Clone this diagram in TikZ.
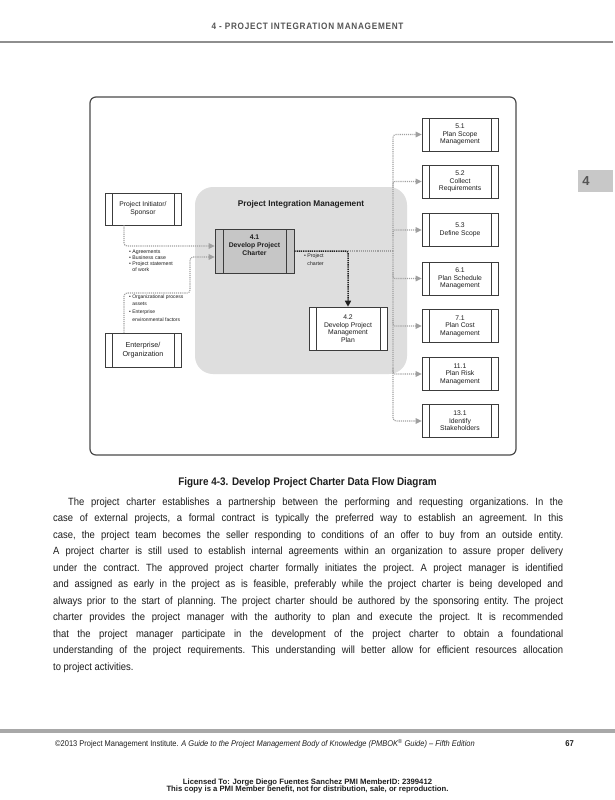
\documentclass[tikz,border=0pt]{standalone}
\usepackage{fontspec}
\setmainfont{Liberation Sans}
\newfontfamily\cnd{Liberation Sans}[FakeStretch=0.9]
\newfontfamily\hdrfam{Liberation Sans}[FakeStretch=0.88,LetterSpace=8]
\usetikzlibrary{arrows.meta}
\definecolor{framec}{HTML}{4A4A4A}
\definecolor{boxc}{HTML}{3C3C3C}
\definecolor{regionc}{HTML}{DEDEDE}
\definecolor{darkfill}{HTML}{C6C6C6}
\definecolor{connc}{HTML}{A0A0A0}
\definecolor{hdrc}{HTML}{555555}
\definecolor{rulec}{HTML}{8E8E8E}
\definecolor{barc}{HTML}{A8A8A8}
\definecolor{tabc}{HTML}{C8C8C8}
\definecolor{textc}{HTML}{1E1E1E}
\tikzset{
  sbar/.style={path picture={\draw[boxc,line width=0.6pt]
      ([xshift=#1]path picture bounding box.south west) -- ([xshift=#1]path picture bounding box.north west)
      ([xshift=-#1]path picture bounding box.south east) -- ([xshift=-#1]path picture bounding box.north east);}},
  pbox/.style={draw=boxc, line width=0.6pt, fill=white, minimum width=76pt, minimum height=33pt,
      inner sep=1pt, align=center, text=textc, font=\fontsize{6.8}{7.6}\selectfont, sbar=7pt},
  gline/.style={draw=connc, line width=1.1pt, dash pattern=on 1.1pt off 1pt, rounded corners=3pt},
  gconn/.style={gline, -{Triangle[length=6pt,width=5.5pt]}},
  bconn/.style={draw=black!88, line width=1.5pt, dash pattern=on 1.3pt off 0.9pt, rounded corners=2pt,
      -{Triangle[length=6pt,width=6pt]}},
  lbl/.style={anchor=north west, inner sep=0pt, align=left, text=textc},
}
\begin{document}
\begin{tikzpicture}[x=1pt,y=-1pt]
\path[use as bounding box, fill=white] (0,0) rectangle (615,800);

% header
\node[font={\hdrfam\bfseries\fontsize{9.3}{10}\selectfont}, text=hdrc] (hdr) at (307.5,26) {4 - PROJECT INTEGRATION MANAGEMENT};
\draw[rulec, line width=2.2pt] (0,42) -- (613,42);
\node[fill=tabc, minimum width=35pt, minimum height=22pt, inner sep=0pt, anchor=north west] (tab) at (578,170) {};
\node[font=\bfseries\fontsize{13}{14}\selectfont, text=hdrc] (tabnum) at (586,181.5) {4};

% diagram frame and group region
\node[draw=framec, line width=1.2pt, rounded corners=6pt, minimum width=426pt, minimum height=358pt] (frame) at (303,276) {};
\node[fill=regionc, rounded corners=18pt, minimum width=212pt, minimum height=187pt, inner sep=0pt] (pim) at (301,280.5) {};
\node[font=\bfseries\fontsize{8.3}{9}\selectfont, text=textc] (title) at (301,204) {Project Integration Management};

% boxes
\node[pbox, minimum height=32pt] (sponsor) at (143,209) {Project Initiator/\\Sponsor};
\node[pbox, minimum height=34pt, font=\fontsize{7.2}{8.4}\selectfont] (ent) at (143,350) {Enterprise/\\Organization};
\node[pbox, fill=darkfill, minimum width=79pt, minimum height=44pt, sbar=8pt, font=\bfseries\fontsize{6.8}{7.6}\selectfont] (c41) at (254.5,251) {4.1\\Develop Project\\Charter\\[4pt]};
\node[pbox, minimum width=78pt, minimum height=43pt] (c42) at (348,328.5) {4.2\\Develop Project\\Management\\Plan};

\node[pbox] (r51) at (460,134.5) {5.1\\Plan Scope\\Management};
\node[pbox] (r52) at (460,181.5) {5.2\\Collect\\Requirements};
\node[pbox] (r53) at (460,230) {5.3\\Define Scope};
\node[pbox] (r61) at (460,278.5) {6.1\\Plan Schedule\\Management};
\node[pbox] (r71) at (460,326) {7.1\\Plan Cost\\Management};
\node[pbox] (r111) at (460,374) {11.1\\Plan Risk\\Management};
\node[pbox] (r131) at (460,421) {13.1\\Identify\\Stakeholders};

% labels
\node[lbl, font=\fontsize{5.2}{6}\selectfont] (lab1) at (129,250) {\textbullet\ Agreements\\\textbullet\ Business case\\\textbullet\ Project statement\\\phantom{\textbullet\ }of work};
\node[lbl, font=\fontsize{5}{7.6}\selectfont] (lab2) at (129,294.5) {\textbullet\ Organizational process\\\phantom{\textbullet\ }assets\\\textbullet\ Enterprise\\\phantom{\textbullet\ }environmental factors};
\node[lbl, font=\fontsize{5.2}{8}\selectfont] (lab3) at (304,254) {\textbullet\ Project\\\phantom{\textbullet\ }charter};

% connectors
\draw[gconn] ([xshift=-19pt]sponsor.south) |- ([yshift=5pt]c41.west);
\coordinate (eb) at (190,293);
\draw[gconn] ([xshift=-19pt]ent.north) |- (eb) |- ([yshift=-6pt]c41.west);
\draw[bconn] (c41.east) -| (c42.north);
\coordinate (jn) at (c42.north |- c41.east);
\coordinate (bus) at (393,251);
\draw[gline] (jn) -- (bus);
\draw[gconn] (bus) |- (r51.west);
\draw[gconn] (bus) |- (r131.west);
\coordinate (b52) at (bus |- r52.west);
\coordinate (b53) at (bus |- r53.west);
\coordinate (b61) at (bus |- r61.west);
\coordinate (b71) at (bus |- r71.west);
\coordinate (b111) at (bus |- r111.west);
\draw[gconn] ([yshift=-6pt]b52) .. controls (b52) .. ([xshift=6pt]b52) -- (r52.west);
\draw[gconn] ([yshift=-6pt]b53) .. controls (b53) .. ([xshift=6pt]b53) -- (r53.west);
\draw[gconn] ([yshift=6pt]b61) .. controls (b61) .. ([xshift=6pt]b61) -- (r61.west);
\draw[gconn] ([yshift=6pt]b71) .. controls (b71) .. ([xshift=6pt]b71) -- (r71.west);
\draw[gconn] ([yshift=6pt]b111) .. controls (b111) .. ([xshift=6pt]b111) -- (r111.west);

% caption
\node[font={\cnd\bfseries\fontsize{11}{12}\selectfont}, text=textc] (cap) at (307.5,483) {Figure 4-3. Develop Project Charter Data Flow Diagram};

% body text
\node[anchor=north west, inner sep=0pt, text width=510pt, align=justify, text=textc,
      font={\cnd\fontsize{10.5}{16.5}\selectfont\frenchspacing\tolerance=10000\hbadness=10000}] (body) at (53,497.5) {%
\noindent\hspace*{15pt}The project charter establishes a partnership between the performing and requesting organizations. In the\linebreak
case of external projects, a formal contract is typically the preferred way to establish an agreement. In this\linebreak
case, the project team becomes the seller responding to conditions of an offer to buy from an outside entity.\linebreak
A project charter is still used to establish internal agreements within an organization to assure proper delivery\linebreak
under the contract. The approved project charter formally initiates the project. A project manager is identified\linebreak
and assigned as early in the project as is feasible, preferably while the project charter is being developed and\linebreak
always prior to the start of planning. The project charter should be authored by the sponsoring entity. The project\linebreak
charter provides the project manager with the authority to plan and execute the project. It is recommended\linebreak
that the project manager participate in the development of the project charter to obtain a foundational\linebreak
understanding of the project requirements. This understanding will better allow for efficient resources allocation\linebreak
to project activities.};

% footer
\draw[barc, line width=4pt] (0,731) -- (615,731);
\node[anchor=base west, inner sep=0pt, text=textc, font={\cnd\fontsize{8.3}{9}\selectfont}] (foot) at (55,746) {©2013 Project Management Institute. \textit{A Guide to the Project Management Body of Knowledge (PMBOK\textsuperscript{®} Guide) – Fifth Edition}};
\node[anchor=base east, inner sep=0pt, text=textc, font={\cnd\bfseries\fontsize{8.5}{9}\selectfont}] (pg) at (574,746) {67};
\node[align=center, inner sep=0pt, text=textc, font=\bfseries\fontsize{7.7}{7.6}\selectfont] (lic) at (307.5,786) {Licensed To: Jorge Diego Fuentes Sanchez PMI MemberID: 2399412\\This copy is a PMI Member benefit, not for distribution, sale, or reproduction.};
\end{tikzpicture}
\end{document}
